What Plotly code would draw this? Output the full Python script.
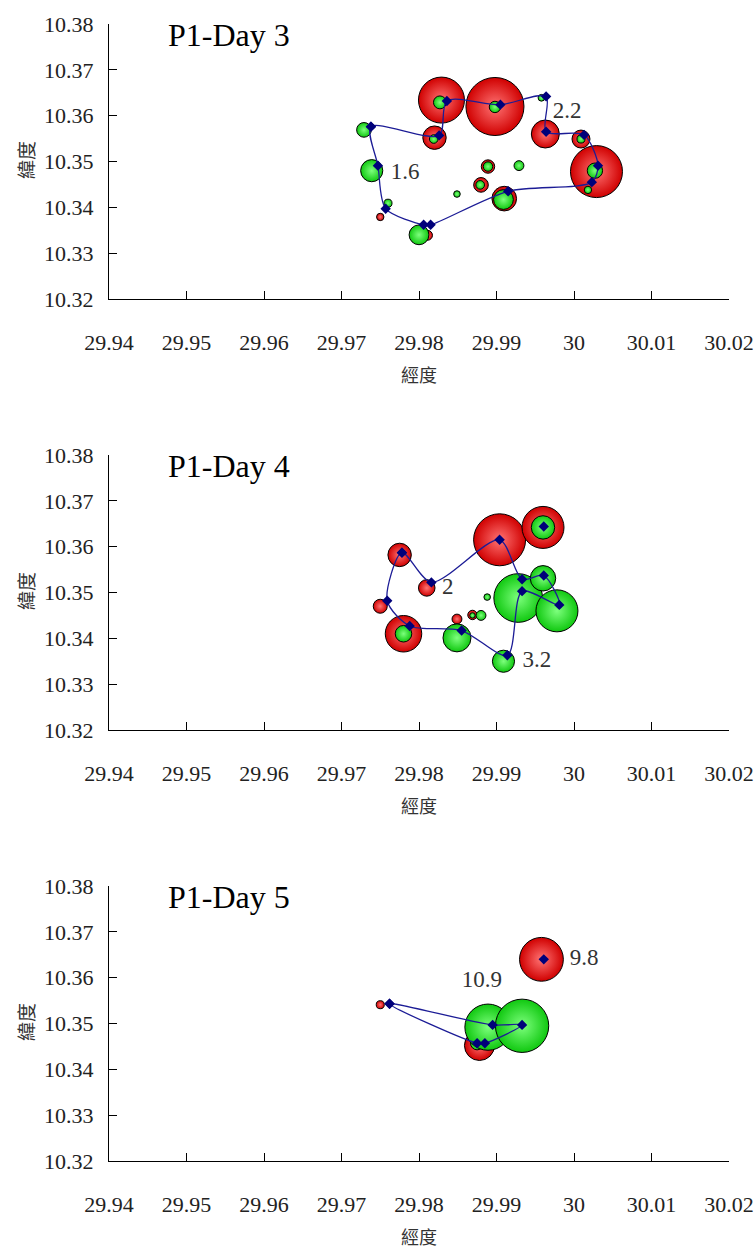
import plotly.graph_objects as go

# ---------------- data ----------------
x_ticks = [29.94, 29.95, 29.96, 29.97, 29.98, 29.99, 30.0, 30.01, 30.02]
x_ticktext = ["29.94", "29.95", "29.96", "29.97", "29.98", "29.99", "30", "30.01", "30.02"]
y_ticks = [10.32, 10.33, 10.34, 10.35, 10.36, 10.37, 10.38]
y_ticktext = ["10.32", "10.33", "10.34", "10.35", "10.36", "10.37", "10.38"]

titles = ["P1-Day 3", "P1-Day 4", "P1-Day 5"]

# Day 3
d3_red_x = [29.9829, 29.9898, 29.9820, 29.9963, 30.0009, 30.0029, 29.9750, 29.9811, 29.9889, 29.9880, 29.9910]
d3_red_y = [10.3634, 10.3620, 10.3552, 10.3560, 10.3549, 10.3478, 10.3379, 10.3339, 10.3489, 10.3449, 10.3419]
d3_red_v = [10.8, 17.2, 2.8, 4.0, 1.65, 13.8, 0.28, 0.5, 0.92, 1.1, 3.1]
d3_grn_x = [29.9827, 29.9898, 29.9819, 29.9958, 30.0009, 30.0027, 30.0018, 29.9889, 29.9929, 29.9879,
            29.9909, 29.9849, 29.9729, 29.9739, 29.9760, 29.9800]
d3_grn_y = [10.3629, 10.3619, 10.3549, 10.3639, 10.3549, 10.3480, 10.3438, 10.3489, 10.3491, 10.3449,
            10.3417, 10.3429, 10.3569, 10.3480, 10.3409, 10.3340]
d3_grn_v = [0.85, 0.66, 0.38, 0.23, 0.33, 1.2, 0.28, 0.45, 0.5, 0.38, 2.0, 0.22, 1.1, 2.5, 0.33, 2.0]
d3_path_x = [29.9738, 29.9826, 29.9836, 29.9905, 29.9964, 29.9964, 30.0013, 30.0031, 30.0023, 29.9915,
             29.9815, 29.9806, 29.9757, 29.9747, 29.9738]
d3_path_y = [10.3576, 10.3557, 10.3632, 10.3624, 10.3642, 10.3565, 10.3558, 10.3491, 10.3455, 10.3435,
             10.3362, 10.3362, 10.3397, 10.3491, 10.3576]
d3_lab_x = [29.9782, 29.9991]
d3_lab_y = [10.3475, 10.3608]
d3_lab_t = ["1.6", "2.2"]

# Day 4
d4_red_x = [29.9775, 29.9810, 29.9750, 29.9780, 29.9849, 29.9869, 29.9904, 29.9960]
d4_red_y = [10.3582, 10.3510, 10.3470, 10.3410, 10.3442, 10.3451, 10.3615, 10.3642]
d4_red_v = [2.8, 1.4, 1.0, 6.8, 0.5, 0.45, 13.8, 9.0]
d4_grn_x = [29.9780, 29.9849, 29.9869, 29.9880, 29.9888, 29.9928, 29.9960, 29.9978, 29.9960, 29.9909]
d4_grn_y = [10.3410, 10.3401, 10.3450, 10.3450, 10.3490, 10.3488, 10.3531, 10.3460, 10.3642, 10.3350]
d4_grn_v = [1.4, 4.0, 0.15, 0.5, 0.22, 12.1, 3.3, 9.0, 2.8, 2.5]
d4_path_x = [29.9961, None, 29.9778, 29.9816, 29.9904, 29.9933, 29.9961, 29.9981, 29.9933, 29.9914,
             29.9855, 29.9788, 29.9759, 29.9778]
d4_path_y = [10.3644, None, 10.3587, 10.3522, 10.3615, 10.3529, 10.3537, 10.3473, 10.3503, 10.3363,
             10.3417, 10.3427, 10.3482, 10.3587]
d4_lab_x = [29.9837, 29.9952]
d4_lab_y = [10.3509, 10.3351]
d4_lab_t = ["2", "3.2"]

# Day 5
d5_red_x = [29.9750, 29.9958, 29.9878]
d5_red_y = [10.3541, 10.3640, 10.3452]
d5_red_v = [0.33, 9.8, 4.6]
d5_grn_x = [29.9875, 29.9889, 29.9933]
d5_grn_y = [10.3457, 10.3492, 10.3495]
d5_grn_v = [0.9, 10.9, 14.5]
d5_path_x = [29.9961, None, 29.9762, 29.9895, 29.9933, 29.9885, 29.9875, 29.9762]
d5_path_y = [10.3640, None, 10.3543, 10.3497, 10.3497, 10.3457, 10.3457, 10.3543]
d5_lab_x = [29.9881, 30.0013]
d5_lab_y = [10.3592, 10.3640]
d5_lab_t = ["10.9", "9.8"]

panels = [
    (d3_red_x, d3_red_y, d3_red_v, d3_grn_x, d3_grn_y, d3_grn_v, d3_path_x, d3_path_y, d3_lab_x, d3_lab_y, d3_lab_t),
    (d4_red_x, d4_red_y, d4_red_v, d4_grn_x, d4_grn_y, d4_grn_v, d4_path_x, d4_path_y, d4_lab_x, d4_lab_y, d4_lab_t),
    (d5_red_x, d5_red_y, d5_red_v, d5_grn_x, d5_grn_y, d5_grn_v, d5_path_x, d5_path_y, d5_lab_x, d5_lab_y, d5_lab_t),
]

# ---------------- figure ----------------
W, H = 754, 1249
SIZEREF = 1.0 / 98.0
x_dom = [109 / W, 729 / W]
tops = [24, 455, 886]
plot_h = 275

SERIF = "Liberation Serif, Times New Roman, serif"
CJK = "Noto Sans CJK TC, Noto Sans CJK SC, sans-serif"

fig = go.Figure()
annotations = []

for i, (rx, ry, rv, gx, gy, gv, px, py, lx, ly, lt) in enumerate(panels):
    n = "" if i == 0 else str(i + 1)
    xa, ya = "x" + n, "y" + n
    fig.add_trace(go.Scatter(
        x=rx, y=ry, mode="markers", xaxis=xa, yaxis=ya, showlegend=False, hoverinfo="skip",
        marker=dict(size=rv, sizemode="area", sizeref=SIZEREF, color="#d00000",
                    gradient=dict(type="radial", color="#ff7373"),
                    line=dict(color="#000000", width=1), opacity=1)))
    fig.add_trace(go.Scatter(
        x=gx, y=gy, mode="markers", xaxis=xa, yaxis=ya, showlegend=False, hoverinfo="skip",
        marker=dict(size=gv, sizemode="area", sizeref=SIZEREF, color="#10c810",
                    gradient=dict(type="radial", color="#7dff7d"),
                    line=dict(color="#000000", width=1), opacity=1)))
    fig.add_trace(go.Scatter(
        x=px, y=py, mode="lines+markers", xaxis=xa, yaxis=ya, showlegend=False, hoverinfo="skip",
        connectgaps=False,
        line=dict(color="#1c1c96", width=1.3, shape="spline", smoothing=0.8),
        marker=dict(symbol="diamond", size=8, color="#00007a")))
    fig.add_trace(go.Scatter(
        x=lx, y=ly, mode="text", text=lt, xaxis=xa, yaxis=ya, showlegend=False, hoverinfo="skip",
        textfont=dict(family=SERIF, size=23, color="#333333")))

    top = tops[i]
    bottom = top + plot_h
    y_dom = [1 - bottom / H, 1 - top / H]
    axis_common = dict(showgrid=False, zeroline=False, showline=True, linecolor="#000000", linewidth=1,
                       ticks="inside", ticklen=8, tickcolor="#000000", tickwidth=1, automargin=False,
                       tickfont=dict(family=SERIF, size=22, color="#222222"))
    fig.update_layout(**{
        ("xaxis" + n): dict(domain=x_dom, range=[29.94, 30.02], tickvals=x_ticks, ticktext=x_ticktext,
                            anchor=ya, ticklabelstandoff=24, fixedrange=True, **axis_common),
        ("yaxis" + n): dict(domain=y_dom, range=[10.32, 10.38], tickvals=y_ticks, ticktext=y_ticktext,
                            anchor=xa, ticklabelstandoff=10, fixedrange=True, **axis_common),
    })
    annotations.append(dict(text=titles[i], xref="paper", yref="paper", x=166 / W, y=1 - (top + 11) / H,
                            xanchor="left", yanchor="middle", showarrow=False,
                            font=dict(family=SERIF, size=32, color="#000000")))
    annotations.append(dict(text="經度", xref="paper", yref="paper", x=419 / W, y=1 - (bottom + 75) / H,
                            xanchor="center", yanchor="middle", showarrow=False,
                            font=dict(family=CJK, size=18, color="#333333")))
    annotations.append(dict(text="緯度", xref="paper", yref="paper", x=25 / W, y=1 - (top + 136) / H,
                            xanchor="center", yanchor="middle", showarrow=False, textangle=-90,
                            font=dict(family=CJK, size=19, color="#333333")))

fig.update_layout(width=W, height=H, margin=dict(l=0, r=0, t=0, b=0),
                  paper_bgcolor="#ffffff", plot_bgcolor="#ffffff",
                  annotations=annotations, showlegend=False)

fig.write_html("out.html", config={"displayModeBar": False})
